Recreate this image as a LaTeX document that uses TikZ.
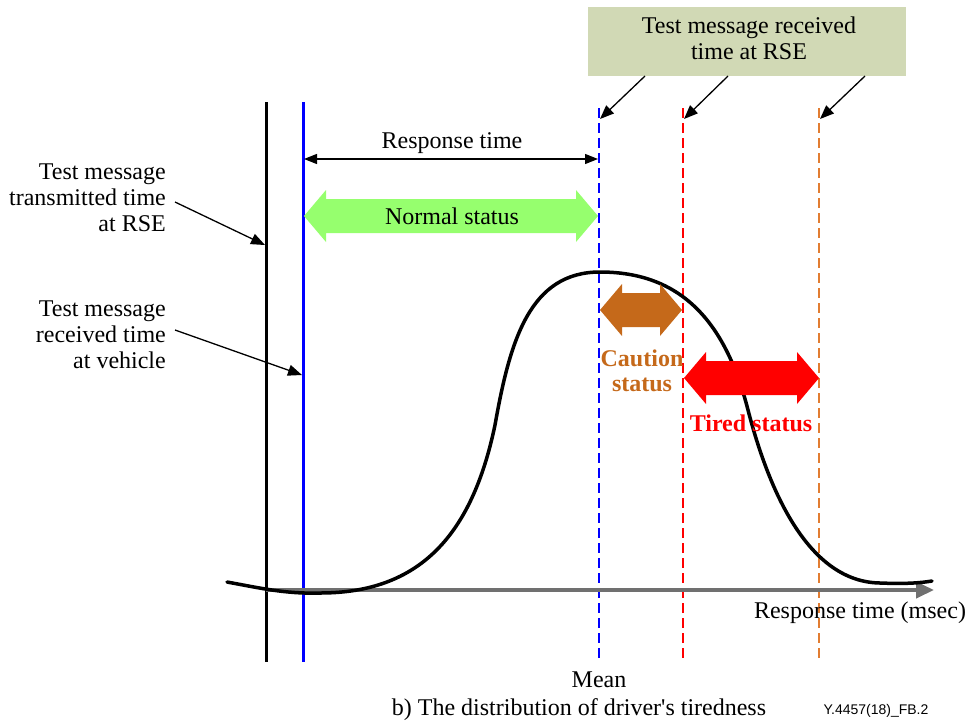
\documentclass[tikz,border=0pt]{standalone}
\usepackage{fontspec}
\setmainfont{Liberation Serif}
\newfontfamily\rawserif{Liberation Serif}[Ligatures=TeXOff]
\newfontfamily\figsans{Liberation Sans}
\usetikzlibrary{arrows.meta}

\definecolor{boxgreen}{RGB}{209,217,181}
\definecolor{normalgreen}{RGB}{150,255,110}
\definecolor{cautionbrown}{RGB}{197,105,26}
\definecolor{tiredred}{RGB}{255,0,0}
\definecolor{lateorange}{RGB}{226,125,50}
\definecolor{pureblue}{RGB}{0,0,255}
\definecolor{axisgray}{RGB}{112,112,112}

% filled double-headed block arrow: left x, right x, centre y, colour
\newcommand\blockarrow[4]{%
  \fill[#4] (#1,#3) -- ({#1+22},{#3-26}) -- ({#1+22},{#3-17}) -- ({#2-22},{#3-17})
    -- ({#2-22},{#3-26}) -- (#2,#3) -- ({#2-22},{#3+26}) -- ({#2-22},{#3+17})
    -- ({#1+22},{#3+17}) -- ({#1+22},{#3+26}) -- cycle;}

\begin{document}
\begin{tikzpicture}[x=1pt,y=-1pt,
  txt/.style={font=\fontsize{24}{26}\selectfont, inner sep=0pt},
  boldtxt/.style={font=\fontsize{24}{25}\selectfont\bfseries, inner sep=0pt},
  pointer/.style={line width=1.3pt, -{Triangle[length=14pt,width=11pt]}},
  marker/.style={line width=2pt, dash pattern=on 10pt off 5pt},
  solidline/.style={line width=3pt}]
\useasboundingbox (0,0) rectangle (971,724);

% top label box
\node[fill=boxgreen, minimum width=318pt, minimum height=69pt, inner sep=0pt,
      anchor=north west] (box) at (588,7) {};
\node[txt, align=center] (boxtext) at (749,38) {Test message received\\time at RSE};

% vertical time markers
\coordinate (txtop) at (266,102);  \coordinate (txbot) at (266,662);
\coordinate (rxtop) at (303,102);  \coordinate (rxbot) at (303,662);
\coordinate (meantop) at (599,108); \coordinate (meanbot) at (599,662);
\coordinate (redtop) at (683,108);  \coordinate (redbot) at (683,662);
\coordinate (orgtop) at (819,108);  \coordinate (orgbot) at (819,662);
\draw[solidline, black] (txtop) -- (txbot);
\draw[solidline, pureblue] (rxtop) -- (rxbot);
\draw[marker, pureblue] (meantop) -- (meanbot);
\draw[marker, tiredred] (redtop) -- (redbot);
\draw[marker, lateorange] (orgtop) -- (orgbot);

% time axis
\coordinate (axstart) at (266,590);
\coordinate (axend) at (934,590);
\draw[axisgray, line width=4pt, -{Triangle[length=18pt,width=16pt]}] (axstart) -- (axend);

% distribution curve
\draw[line width=3.5pt, line join=round, line cap=round]
  (227,582) .. controls (260,588) and (285,594) .. (320,593)
  .. controls (420,593) and (472,535) .. (495,425)
  .. controls (510,340) and (530,272) .. (600,272)
  .. controls (680,272) and (725,320) .. (748,410)
  .. controls (770,495) and (810,582) .. (880,583)
  .. controls (905,584) and (920,583) .. (932,581);

% arrows from the top box to the dashed markers
\coordinate (p1) at (600,119); \coordinate (p2) at (684,119); \coordinate (p3) at (820,119);
\draw[pointer] (645,76) -- (p1);
\draw[pointer] (728,76) -- (p2);
\draw[pointer] (865,76) -- (p3);

% left labels
\node[txt, align=right, anchor=east] (txlbl) at (166,198) {Test message\\transmitted time\\at RSE};
\node[txt, align=right, anchor=east] (rxlbl) at (166,335) {Test message\\received time\\at vehicle};
\coordinate (txhit) at (265,245);
\coordinate (rxhit) at (302,375);
\draw[pointer] (175,202) -- (txhit);
\draw[pointer] (175,330) -- (rxhit);

% response time span
\coordinate (rtL) at (304,159); \coordinate (rtR) at (598,159);
\draw[line width=1.2pt, {Triangle[length=13pt,width=10pt]}-{Triangle[length=13pt,width=10pt]}] (rtL) -- (rtR);
\node[txt] (rtlbl) at (452,143) {Response time};

% status ranges
\blockarrow{304}{598}{216}{normalgreen}
\node[txt] (normal) at (452,216) {Normal status};
\blockarrow{600}{682}{310}{cautionbrown}
\node[boldtxt, align=center, text=cautionbrown] (caution) at (642,371) {Caution\\status};
\blockarrow{684}{819}{378}{tiredred}
\node[boldtxt, text=tiredred] (tired) at (751,423) {Tired status};

% axis and caption texts
\node[txt] (axlbl) at (860,613) {Response time (msec)};
\node[txt] (mean) at (599,680) {Mean};
\node[txt, font=\rawserif\fontsize{24}{26}\selectfont] (caption) at (579,710) {b) The distribution of driver's tiredness};
\node[font=\figsans\fontsize{14}{16}\selectfont, inner sep=0pt] (figid) at (876,711) {Y.4457(18)\_FB.2};
\end{tikzpicture}
\end{document}
